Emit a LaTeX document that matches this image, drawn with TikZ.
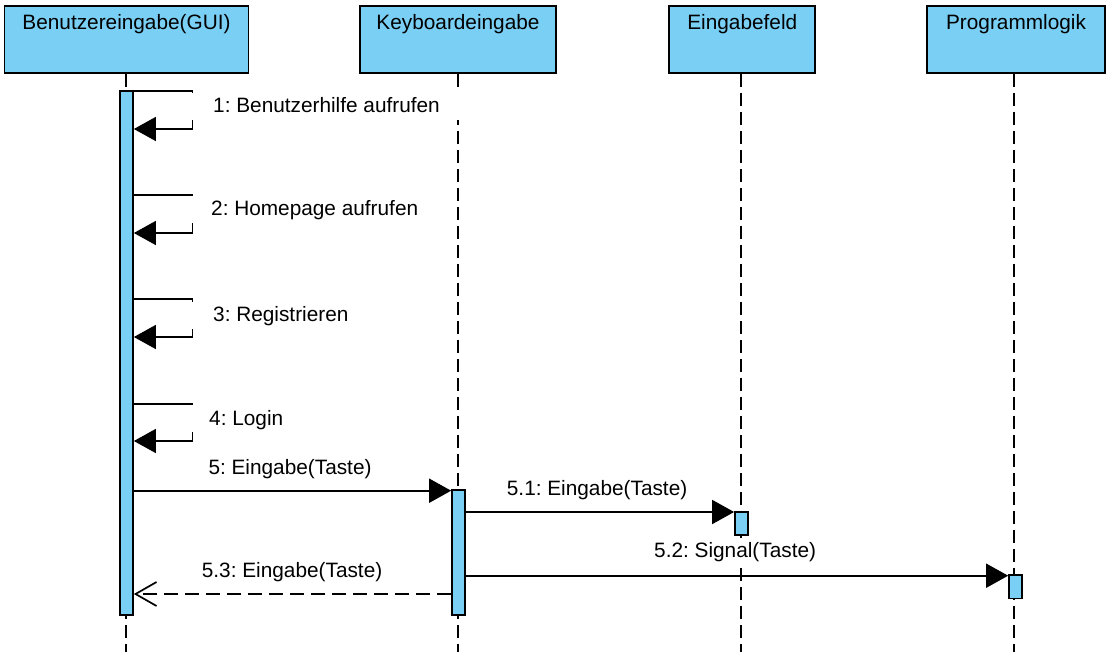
\documentclass[tikz,border=0pt]{standalone}
\usepackage{fontspec}
\setmainfont{Liberation Sans}
\usetikzlibrary{arrows.meta}
\definecolor{headblue}{RGB}{122,207,245}
\frenchspacing
\begin{document}
\begin{tikzpicture}[x=1pt,y=-1pt,
  font=\fontsize{20.8}{24}\selectfont,
  head/.style={draw=black, fill=headblue, line width=1.8pt, inner xsep=0pt, inner ysep=0pt,
    text height=23.5pt, text depth=43pt, anchor=north},
  act/.style={draw=black, fill=headblue, line width=1.7pt, minimum width=13pt, inner sep=0pt, anchor=north},
  lifeline/.style={line width=2pt, dash pattern=on 13pt off 6pt},
  msg/.style={line width=1.7pt, -{Triangle[length=22pt,width=24pt]}},
  selfmsg/.style={line width=1.3pt, -{Triangle[length=22pt,width=24pt]}},
  reply/.style={line width=1.7pt, dash pattern=on 14pt off 7pt, -{Straight Barb[length=21pt,width=24pt]}},
  lbl/.style={fill=white, inner xsep=22pt, inner ysep=4pt, text height=16pt, text depth=3pt, anchor=base west},
]
\useasboundingbox (0,0) rectangle (1113,652);
\coordinate (bot) at (0,652);

% heads
\node[head, minimum width=244pt] (gui) at (126.5,5.5) {Benutzereingabe(GUI)};
\node[head, minimum width=196pt] (kb) at (458,5.5) {Keyboardeingabe};
\node[head, minimum width=146pt] (ef) at (742.3,5.5) {Eingabefeld};
\node[head, minimum width=178pt] (pl) at (1016,5.5) {Programmlogik};

% lifeline x positions
\coordinate (x1) at (126,0);
\coordinate (x2) at (458,0);
\coordinate (x3) at (741,0);
\coordinate (x4) at (1014,0);

% lifelines
\draw[lifeline] (gui.south -| x1) -- (x1 |- bot);
\draw[lifeline] (kb.south -| x2) -- (x2 |- bot);
\draw[lifeline] (ef.south -| x3) -- (x3 |- bot);
\draw[lifeline] (pl.south -| x4) -- (x4 |- bot);

% activations
\node[act, minimum height=524pt] (a1) at (126.5,90) {};
\node[act, minimum height=125pt] (a2) at (458.5,489) {};
\node[act, minimum height=23pt] (a3) at (741.5,511) {};
\node[act, minimum height=23.5pt] (a4) at (1015.5,574) {};

% self messages
\coordinate (s1) at (192.7,91);  \coordinate (e1) at (192.7,129);
\coordinate (s2) at (192.7,195); \coordinate (e2) at (192.7,233);
\coordinate (s3) at (192.7,299); \coordinate (e3) at (192.7,337);
\coordinate (s4) at (192.7,404); \coordinate (e4) at (192.7,441);
\draw[selfmsg] (a1.east |- s1) -- (s1) -- (e1) -- (a1.east |- e1);
\draw[selfmsg] (a1.east |- s2) -- (s2) -- (e2) -- (a1.east |- e2);
\draw[selfmsg] (a1.east |- s3) -- (s3) -- (e3) -- (a1.east |- e3);
\draw[selfmsg] (a1.east |- s4) -- (s4) -- (e4) -- (a1.east |- e4);

% messages
\coordinate (m5) at (0,490.7);
\coordinate (m51) at (0,512);
\coordinate (m52) at (0,575.7);
\coordinate (m53) at (0,594);
\draw[msg] (a1.east |- m5) -- (a2.west |- m5);
\draw[msg] (a2.east |- m51) -- (a3.west |- m51);
\draw[msg] (a2.east |- m52) -- (a4.west |- m52);
\draw[reply] (a2.west |- m53) -- (a1.east |- m53);

% labels
\node[lbl] (l1) at (191,112.7) {1: Benutzerhilfe aufrufen};
\node[lbl] (l2) at (189,216) {2: Homepage aufrufen};
\node[lbl] (l3) at (191,321.5) {3: Registrieren};
\node[lbl] (l4) at (187,425) {4: Login};
\node[lbl] (l5) at (186.3,474) {5: Eingabe(Taste)};
\node[lbl] (l51) at (484.7,495) {5.1: Eingabe(Taste)};
\node[lbl] (l52) at (632,557.7) {5.2: Signal(Taste)};
\node[lbl] (l53) at (179.7,577) {5.3: Eingabe(Taste)};
\end{tikzpicture}
\end{document}
